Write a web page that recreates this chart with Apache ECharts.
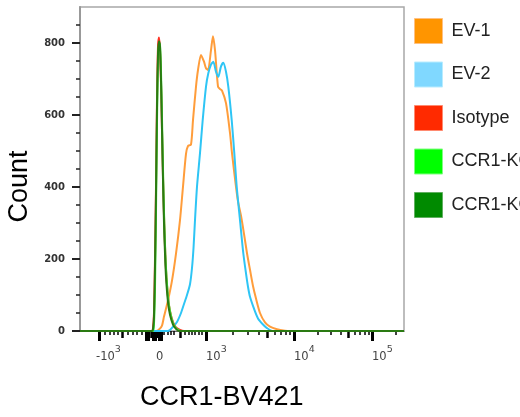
<!DOCTYPE html>
<html>
<head>
<meta charset="utf-8">
<script src="https://cdn.jsdelivr.net/npm/echarts@6/dist/echarts.min.js"></script>
<style>
  html, body { margin: 0; padding: 0; background: #fff; }
  #chart { width: 520px; height: 417px; }
</style>
</head>
<body>
<div id="chart"></div>
<script>
// Histogram overlay. x = position on the biexponential display scale (0..324),
// y = event count.

const seriesNames = ['EV-1', 'EV-2', 'Isotype', 'CCR1-KO1', 'CCR1-KO2']
const lineColors = ['#ff9d3b', '#2ec5f5', '#ff3020', '#3ced3c', '#2a7a12']
const swatchColors = ['#ff9500', '#80d8ff', '#ff2a00', '#00ff00', '#008a00']
const swatchBorders = ['#ffc080', '#b8ecff', '#ff8a70', '#80ff80', '#60b060']

const ev1 = [[0, 0], [76, 0], [79, 4], [82, 15], [84, 40], [88, 85], [92, 140], [96, 215],
  [100, 308], [103, 401], [106, 492], [108, 514], [111, 518], [113, 586], [116, 679],
  [118, 725], [121, 767], [124, 748], [126, 730], [128, 725], [131, 780], [133, 819],
  [135, 780], [138, 679], [140, 672], [142, 668], [146, 633], [150, 550], [152, 494],
  [156, 400], [158, 360], [161, 320], [164, 270], [167, 216], [170, 170], [173, 125],
  [176, 90], [180, 50], [185, 24], [190, 12], [197, 5], [205, 1], [210, 0], [324, 0]]

const ev2 = [[0, 0], [88, 0], [93, 12], [97, 25], [101, 50], [104, 75], [107, 100],
  [110, 130], [112, 175], [113.5, 230], [115, 308], [117, 401], [120, 494], [122.7, 586],
  [126, 679], [128.3, 716], [131, 740], [133.3, 748], [136, 720], [138.3, 706], [141, 735],
  [143.3, 745], [146, 720], [148.3, 679], [151.7, 586], [154.3, 494], [156.7, 401],
  [160, 308], [163.3, 216], [166, 160], [168, 123], [170, 95], [174, 62], [178, 35],
  [183, 18], [187, 8], [193, 0], [324, 0]]

const isotype = [[0, 0], [72, 0], [73, 8], [74, 50], [75, 200], [76, 400], [77, 640],
  [78, 790], [79, 815], [80, 780], [81, 690], [82, 560], [83, 430], [84, 320], [85, 235],
  [86, 170], [88, 95], [90, 55], [93, 25], [96, 10], [100, 3], [104, 0], [324, 0]]

const ko1 = [[0, 0], [73, 0], [74, 20], [75, 120], [76, 330], [77, 580], [78, 750],
  [79, 800], [80, 795], [81, 720], [82, 590], [83, 450], [84, 330], [85, 240], [86, 175],
  [88, 95], [90, 55], [93, 22], [96, 8], [99, 2], [102, 0], [324, 0]]

const ko2 = [[0, 0], [72, 0], [73, 5], [74, 40], [75, 180], [76, 380], [77, 620],
  [78, 770], [79, 805], [80, 790], [81, 700], [82, 560], [83, 420], [84, 300], [85, 215],
  [86, 150], [88, 80], [90, 45], [93, 18], [96, 6], [99, 0], [324, 0]]

const seriesData = [ev1, ev2, isotype, ko1, ko2]

// x axis: labelled decades and where they sit on the display scale
const xTickLabels = ['-10^3', '0', '10^3', '10^4', '10^5']
const xLabelPos = [16, 76, 126, 214, 292]
const decadePos = [126, 214, 292, 370] // 10^3, 10^4, 10^5, 10^6
const xLongTicks = [19.3, 66.5, 68.5, 73, 75, 79, 81, 126, 214, 292]
const xLinearMid = [42.7, 71, 77, 100]
const xLinearMinor = [25, 29.3, 33.3, 37.3, 47.7, 52.3, 56.7, 61.7,
  84, 87.3, 90.7, 94, 105, 108.3, 111.7, 115, 118.3, 121.7]

const yLabels = [0, 200, 400, 600, 800]
const yMinor = [50, 100, 150, 250, 300, 350, 450, 500, 550, 650, 700, 750, 850]

const X_MAX = 324

function logTicks(ks) {
  const out = []
  for (let i = 0; i < decadePos.length - 1; i++) {
    const a = decadePos[i]
    const w = decadePos[i + 1] - a
    ks.forEach(k => {
      const p = a + Math.log10(k) * w
      if (p < X_MAX) out.push(p)
    })
  }
  return out
}

const xMidTicks = xLinearMid.concat(logTicks([5]))
const xMinorTicks = xLinearMinor.concat(logTicks([2, 3, 4, 6, 7, 8, 9]))

function xLabel(value) {
  const i = xLabelPos.findIndex(p => Math.abs(p - value) < 0.01)
  if (i < 0) return ''
  const parts = xTickLabels[i].split('^')
  return '{b|' + parts[0] + '}{s|' + (parts[1] || ' ') + '}'
}

const chart = echarts.init(document.getElementById('chart'), null, { renderer: 'canvas' })

const xBase = {
  type: 'value', gridIndex: 0, position: 'bottom', min: 0, max: X_MAX,
  splitLine: { show: false }
}

const option = {
  animation: false,
  backgroundColor: '#fff',
  grid: {
    left: 80, top: 7, width: 324, height: 324,
    show: true, borderColor: '#a8a8a8', borderWidth: 1.5,
    containLabel: false, outerBoundsMode: 'none'
  },
  legend: {
    orient: 'vertical',
    left: 414, top: 18, padding: 0,
    itemWidth: 28, itemHeight: 25, itemGap: 17.5,
    icon: 'rect',
    selectedMode: false,
    textStyle: { fontFamily: 'Liberation Sans', fontSize: 18, color: '#222', padding: [0, 0, 0, 4] },
    data: seriesNames.map((n, i) => ({
      name: n,
      itemStyle: { color: swatchColors[i], borderColor: swatchBorders[i], borderWidth: 1 }
    }))
  },
  xAxis: [
    Object.assign({}, xBase, {
      axisLine: { show: true, lineStyle: { color: '#666', width: 1 } },
      axisTick: { show: true, customValues: xLongTicks, length: 10, lineStyle: { color: '#000', width: 3 } },
      axisLabel: {
        show: true, customValues: xLabelPos, align: 'left', margin: 13.5,
        formatter: xLabel,
        rich: {
          b: { fontFamily: 'DejaVu Sans', fontSize: 11.5, color: '#444' },
          s: { fontFamily: 'DejaVu Sans', fontSize: 9.5, color: '#444', padding: [0, 0, 15, 0] }
        }
      }
    }),
    Object.assign({}, xBase, {
      axisLine: { show: false },
      axisTick: { show: true, customValues: xMidTicks, length: 7, lineStyle: { color: '#000', width: 2.5 } },
      axisLabel: { show: false }
    }),
    Object.assign({}, xBase, {
      axisLine: { show: false },
      axisTick: { show: true, customValues: xMinorTicks, length: 4, lineStyle: { color: '#000', width: 1.5 } },
      axisLabel: { show: false }
    })
  ],
  yAxis: [
    {
      type: 'value', min: 0, max: 900, position: 'left',
      splitLine: { show: false },
      axisLine: { show: true, lineStyle: { color: '#999', width: 2 } },
      axisTick: { show: true, customValues: yLabels, length: 8, lineStyle: { color: '#222', width: 2 } },
      axisLabel: {
        customValues: yLabels, margin: 15,
        fontFamily: 'DejaVu Sans', fontWeight: 'bold', fontSize: 10, color: '#333'
      }
    },
    {
      type: 'value', min: 0, max: 900, position: 'left',
      splitLine: { show: false },
      axisLine: { show: false },
      axisTick: { show: true, customValues: yMinor, length: 4, lineStyle: { color: '#222', width: 1.5 } },
      axisLabel: { show: false }
    }
  ],
  graphic: [
    {
      type: 'text', x: 20, y: 186.5, rotation: Math.PI / 2,
      style: {
        text: 'Count', font: '27px "Liberation Sans"', fill: '#000',
        textAlign: 'center', textVerticalAlign: 'middle'
      }
    },
    {
      type: 'text', x: 221.7, y: 398,
      style: {
        text: 'CCR1-BV421', font: '27px "Liberation Sans"', fill: '#000',
        textAlign: 'center', textVerticalAlign: 'middle'
      }
    }
  ],
  series: seriesNames.map((n, i) => ({
    name: n,
    type: 'line',
    xAxisIndex: 0,
    yAxisIndex: 0,
    data: seriesData[i],
    showSymbol: false,
    smooth: 0.25,
    itemStyle: { color: swatchColors[i] },
    lineStyle: { color: lineColors[i], width: 2 },
    z: 2 + i
  }))
}

chart.setOption(option)
</script>
</body>
</html>
